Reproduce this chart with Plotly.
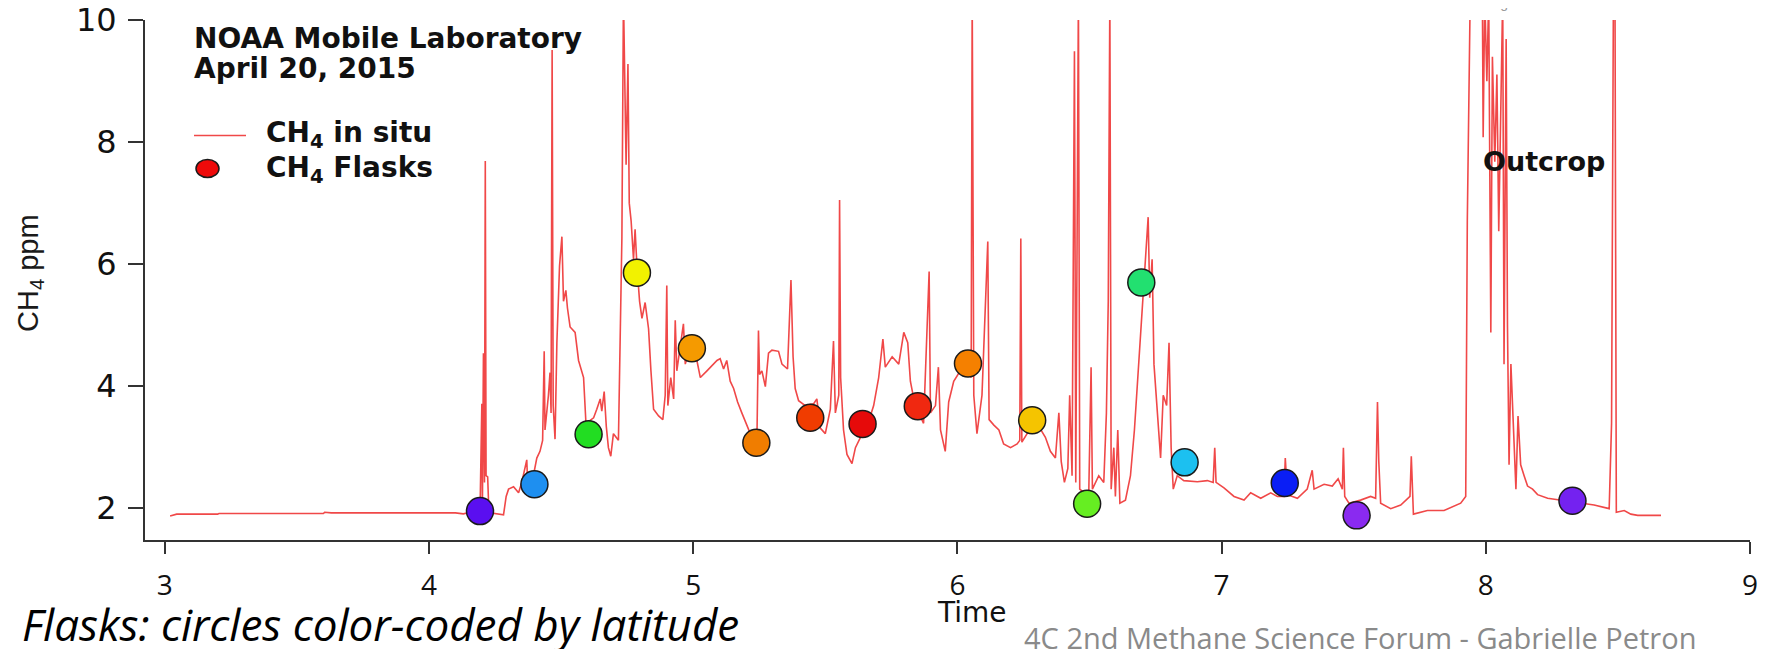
import plotly.graph_objects as go

# ---------------- data ----------------
time_h = [
    3.020, 3.035, 3.045, 3.200, 3.205, 3.600, 3.605, 3.630, 3.760, 3.765,
    4.000, 4.030, 4.100, 4.130, 4.155, 4.193, 4.200, 4.202, 4.206, 4.210,
    4.213, 4.216, 4.222, 4.226, 4.237, 4.282, 4.292, 4.301, 4.320, 4.339,
    4.351, 4.370, 4.373, 4.395, 4.408, 4.420, 4.430, 4.436, 4.439, 4.452,
    4.458, 4.462, 4.466, 4.470, 4.477, 4.484, 4.494, 4.503, 4.509, 4.518,
    4.524, 4.534, 4.553, 4.566, 4.585, 4.594, 4.623, 4.635, 4.648, 4.654,
    4.663, 4.671, 4.679, 4.688, 4.698, 4.717, 4.724, 4.730, 4.736, 4.741,
    4.746, 4.753, 4.758, 4.765, 4.774, 4.780, 4.787, 4.797, 4.806, 4.818,
    4.831, 4.840, 4.850, 4.869, 4.885, 4.894, 4.900, 4.904, 4.915, 4.926,
    4.932, 4.938, 4.963, 4.970, 4.989, 5.014, 5.027, 5.052, 5.090, 5.102,
    5.115, 5.127, 5.140, 5.153, 5.168, 5.184, 5.201, 5.216, 5.241, 5.247,
    5.251, 5.260, 5.273, 5.285, 5.298, 5.323, 5.336, 5.357, 5.370, 5.378,
    5.386, 5.399, 5.424, 5.456, 5.468, 5.481, 5.500, 5.519, 5.531, 5.538,
    5.551, 5.554, 5.558, 5.569, 5.582, 5.601, 5.614, 5.633, 5.658, 5.683,
    5.702, 5.718, 5.727, 5.753, 5.778, 5.797, 5.812, 5.822, 5.835, 5.853,
    5.872, 5.893, 5.898, 5.917, 5.928, 5.936, 5.954, 5.967, 5.986, 6.011,
    6.037, 6.052, 6.056, 6.062, 6.074, 6.093, 6.115, 6.120, 6.138, 6.157,
    6.175, 6.201, 6.226, 6.236, 6.240, 6.244, 6.264, 6.308, 6.333, 6.352,
    6.371, 6.384, 6.393, 6.405, 6.418, 6.425, 6.434, 6.443, 6.448, 6.458,
    6.463, 6.478, 6.497, 6.506, 6.511, 6.535, 6.554, 6.564, 6.571, 6.577,
    6.582, 6.592, 6.598, 6.607, 6.615, 6.636, 6.655, 6.670, 6.683, 6.693,
    6.706, 6.715, 6.722, 6.728, 6.737, 6.744, 6.756, 6.769, 6.779, 6.792,
    6.801, 6.809, 6.817, 6.832, 6.857, 6.908, 6.946, 6.968, 6.974, 6.979,
    7.009, 7.047, 7.085, 7.110, 7.148, 7.186, 7.211, 7.236, 7.241, 7.249,
    7.287, 7.324, 7.343, 7.350, 7.388, 7.419, 7.441, 7.457, 7.461, 7.466,
    7.482, 7.526, 7.564, 7.583, 7.590, 7.595, 7.602, 7.640, 7.678, 7.713,
    7.718, 7.726, 7.779, 7.842, 7.905, 7.924, 7.930, 7.933, 7.941, 7.962,
    7.987, 7.990, 7.996, 8.004, 8.011, 8.019, 8.025, 8.034, 8.042, 8.049,
    8.057, 8.064, 8.069, 8.077, 8.082, 8.088, 8.095, 8.105, 8.114, 8.122,
    8.132, 8.145, 8.158, 8.177, 8.196, 8.234, 8.284, 8.360, 8.410, 8.467,
    8.476, 8.483, 8.489, 8.494, 8.524, 8.549, 8.575, 8.663,
]
ch4_insitu = [
    1.87, 1.89, 1.90, 1.90, 1.91, 1.91, 1.93, 1.92, 1.92, 1.93,
    1.93, 1.92, 1.92, 1.905, 1.93, 1.905, 3.71, 1.96, 4.54, 2.42,
    7.69, 2.53, 2.51, 2.02, 1.92, 1.89, 2.19, 2.31, 2.35, 2.25,
    2.42, 2.79, 2.45, 2.53, 2.82, 2.93, 3.11, 4.57, 3.28, 3.85,
    4.22, 3.56, 9.51, 3.68, 3.13, 4.71, 5.97, 6.45, 5.39, 5.57,
    5.28, 4.97, 4.88, 4.42, 4.14, 3.39, 3.48, 3.62, 3.79, 3.59,
    3.91, 3.34, 2.99, 2.85, 3.22, 3.11, 4.88, 6.42, 10.4, 8.71,
    7.63, 9.28, 7.00, 6.71, 6.08, 6.57, 5.97, 5.39, 5.11, 5.37,
    4.94, 4.25, 3.62, 3.51, 3.45, 3.85, 5.65, 3.68, 4.14, 3.79,
    5.08, 4.25, 5.02, 4.36, 4.65, 4.42, 4.14, 4.25, 4.42, 4.45,
    4.28, 4.42, 4.08, 3.96, 3.74, 3.56, 3.39, 3.22, 3.08, 4.91,
    4.19, 4.25, 3.99, 4.54, 4.59, 4.57, 4.36, 4.28, 5.74, 4.48,
    3.96, 3.76, 3.68, 3.71, 3.79, 3.31, 3.22, 3.62, 4.74, 3.56,
    3.85, 7.05, 4.14, 3.28, 2.88, 2.73, 2.99, 3.16, 3.34, 3.68,
    4.14, 4.77, 4.31, 4.48, 4.36, 4.88, 4.71, 4.08, 3.79, 3.56,
    3.39, 5.88, 3.56, 3.68, 4.31, 3.28, 2.93, 3.74, 4.08, 4.25,
    4.36, 4.14, 10.4, 3.85, 3.22, 3.85, 6.37, 3.45, 3.36, 3.28,
    3.05, 2.99, 3.05, 3.11, 6.42, 3.08, 3.22, 3.34, 3.16, 2.93,
    2.82, 3.56, 2.76, 2.42, 2.65, 3.85, 2.53, 9.49, 2.42, 10.4,
    2.31, 2.25, 2.19, 4.31, 2.31, 2.53, 2.42, 3.56, 5.39, 10.4,
    2.31, 2.99, 2.19, 3.28, 2.08, 2.13, 2.53, 3.28, 4.14, 4.88,
    5.85, 6.42, 6.77, 5.45, 6.08, 4.36, 3.56, 2.82, 3.85, 3.68,
    4.71, 2.99, 2.31, 2.53, 2.45, 2.43, 2.45, 2.42, 2.99, 2.42,
    2.33, 2.19, 2.13, 2.25, 2.16, 2.25, 2.19, 2.19, 2.82, 2.22,
    2.16, 2.31, 2.62, 2.31, 2.39, 2.36, 2.48, 2.31, 2.99, 2.19,
    2.08, 2.13, 2.19, 2.16, 3.74, 2.76, 2.08, 1.99, 2.05, 2.19,
    2.85, 1.90, 1.96, 1.96, 2.08, 2.19, 6.71, 8.20, 10.4, 11.0,
    10.4, 8.08, 10.4, 9.00, 10.4, 4.88, 9.40, 7.68, 9.11, 6.54,
    8.54, 10.4, 4.36, 9.69, 5.00, 2.71, 4.36, 3.34, 2.31, 3.51,
    2.71, 2.53, 2.36, 2.31, 2.22, 2.16, 2.13, 2.09, 2.05, 1.99,
    3.39, 10.4, 10.4, 1.93, 1.96, 1.90, 1.88, 1.88,
]

flask_time = [4.193, 4.399, 4.604, 4.787, 4.995, 5.239, 5.443, 5.641, 5.850,
              6.040, 6.283, 6.491, 6.696, 6.860, 7.239, 7.511, 8.328]
flask_ch4 = [1.95, 2.39, 3.21, 5.86, 4.62, 3.07, 3.48, 3.38, 3.67,
             4.37, 3.44, 2.07, 5.70, 2.75, 2.41, 1.88, 2.12]
flask_colors = ["#5a0ff0", "#1e8ff0", "#22dd22", "#f2f200", "#f59a00", "#f07d00",
                "#f03c00", "#e60a0a", "#f02810", "#f58000", "#f5c400", "#66ee22",
                "#22e070", "#1cc0f0", "#0a1ef5", "#8a2af0", "#7422f0"]

x_ticks = [3, 4, 5, 6, 7, 8, 9]
y_ticks = [2, 4, 6, 8, 10]

# ---------------- figure ----------------
# the page body keeps an 8 px margin, so the figure is sized to fit the window
OFF = 8
W, H = 1771 - OFF, 649 - OFF
ML, MR, MT, MB = 145 - OFF, 21, 20 - OFF, 109
PW, PH = W - ML - MR, H - MT - MB


def px(xpage):
    return (xpage - OFF - ML) / PW


def py(ypage):
    return (H - MB - (ypage - OFF)) / PH


LINE_RED = "#f04848"

fig = go.Figure()
fig.add_trace(go.Scatter(
    x=time_h, y=ch4_insitu, mode="lines",
    line=dict(color=LINE_RED, width=1.6),
    name="CH4 in situ", showlegend=False,
))
fig.add_trace(go.Scatter(
    x=flask_time, y=flask_ch4, mode="markers",
    marker=dict(size=27, color=flask_colors, line=dict(color="#1a1a1a", width=1.5)),
    name="CH4 Flasks", showlegend=False,
))

title_font = dict(family="DejaVu Sans", size=28, color="#111111")
leg_font = dict(family="DejaVu Sans", size=28, color="#111111")
ann = []
ann.append(dict(text="<b>NOAA Mobile Laboratory</b>", x=px(192), y=py(39), xref="paper", yref="paper",
                xanchor="left", yanchor="middle", showarrow=False, font=title_font))
ann.append(dict(text="<b>April 20, 2015</b>", x=px(192), y=py(68), xref="paper", yref="paper",
                xanchor="left", yanchor="middle", showarrow=False, font=title_font))
ann.append(dict(text="<b>CH<sub>4</sub> in situ</b>", x=px(264), y=py(134), xref="paper", yref="paper",
                xanchor="left", yanchor="middle", showarrow=False, font=leg_font))
ann.append(dict(text="<b>CH<sub>4</sub> Flasks</b>", x=px(264), y=py(169), xref="paper", yref="paper",
                xanchor="left", yanchor="middle", showarrow=False, font=leg_font))
ann.append(dict(text="<b>Outcrop</b>", x=8.22, y=7.68, xref="x", yref="y",
                xanchor="center", yanchor="middle", showarrow=False,
                font=dict(family="DejaVu Sans", size=27, color="#111111")))
ann.append(dict(text="CH<sub>4</sub> ppm", x=px(30), y=py(273), xref="paper", yref="paper",
                xanchor="center", yanchor="middle", showarrow=False, textangle=-90,
                font=dict(family="Liberation Sans", size=29, color="#1a1a1a")))
ann.append(dict(text="Time", x=px(972), y=py(612), xref="paper", yref="paper",
                xanchor="center", yanchor="middle", showarrow=False,
                font=dict(family="DejaVu Sans", size=28, color="#111111")))
ann.append(dict(text="<i>Flasks: circles color-coded by latitude</i>", x=px(20), y=py(624),
                xref="paper", yref="paper", xanchor="left", yanchor="middle", showarrow=False,
                font=dict(family="Open Sans", size=44, color="#000000")))
ann.append(dict(text="4C 2nd Methane Science Forum - Gabrielle Petron", x=px(1022), y=py(637),
                xref="paper", yref="paper", xanchor="left", yanchor="middle", showarrow=False,
                font=dict(family="Open Sans", size=29, color="#8a8a8a")))
ann.append(dict(text="Longitude", x=px(1508), y=py(OFF - 5), xref="paper", yref="paper",
                xanchor="center", yanchor="middle", showarrow=False,
                font=dict(family="Liberation Sans", size=14, color="#9a9a9a")))

shapes = [
    dict(type="line", xref="paper", yref="paper", x0=px(194), x1=px(246), y0=py(135.5), y1=py(135.5),
         line=dict(color=LINE_RED, width=1.6)),
    dict(type="circle", xref="paper", yref="paper", x0=px(196), x1=px(219), y0=py(177.5), y1=py(159.5),
         fillcolor="#ee0a0a", line=dict(color="#1a1a1a", width=1.5)),
]

fig.update_layout(
    width=W, height=H,
    margin=dict(l=ML, r=MR, t=MT, b=MB, autoexpand=False),
    paper_bgcolor="white", plot_bgcolor="white",
    showlegend=False,
    annotations=ann, shapes=shapes,
    xaxis=dict(range=[2.925, 9.0], tickvals=x_ticks, ticktext=[str(v) for v in x_ticks],
               showline=True, linecolor="#333333", linewidth=2, mirror=False,
               ticks="outside", ticklen=12, tickwidth=2, tickcolor="#333333",
               tickfont=dict(family="Open Sans", size=28, color="#111111"),
               ticklabelstandoff=7, ticklabeloverflow="allow", automargin=False,
               showgrid=False, zeroline=False),
    yaxis=dict(range=[1.476, 10.003], tickvals=y_ticks, ticktext=[str(v) for v in y_ticks],
               showline=True, linecolor="#333333", linewidth=2,
               ticks="outside", ticklen=15, tickwidth=2, tickcolor="#333333",
               tickfont=dict(family="DejaVu Sans", size=32, color="#111111"),
               ticklabelstandoff=5, ticklabeloverflow="allow", automargin=False,
               showgrid=False, zeroline=False),
)

fig.write_html("out.html")
